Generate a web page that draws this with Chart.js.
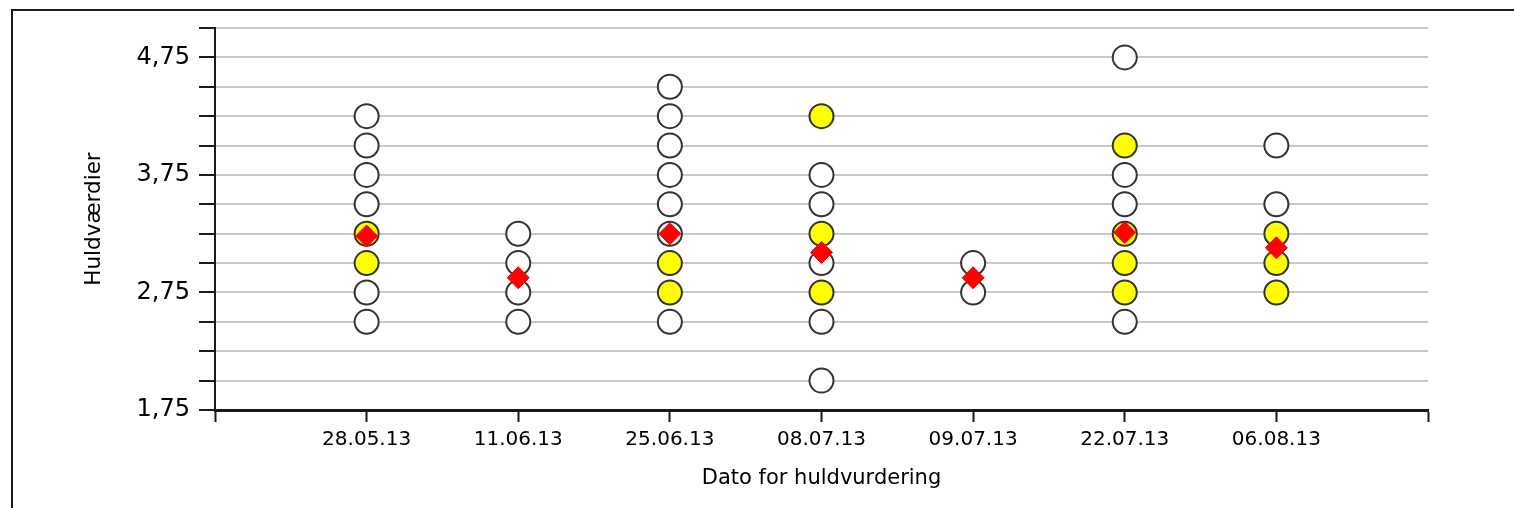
<!DOCTYPE html>
<html><head><meta charset="utf-8">
<script src="https://cdn.jsdelivr.net/npm/chart.js@4.4.1/dist/chart.umd.min.js"></script>
<style>
html,body{margin:0;padding:0;background:#fff;}
#wrap{position:relative;width:1514px;height:508px;overflow:hidden;background:#fff;}
#frame{position:absolute;left:11px;top:9px;width:1600px;height:600px;border-left:2px solid #1a1a1a;border-top:2px solid #1a1a1a;}
canvas{position:absolute;left:0;top:0;}
</style></head><body>
<div id="wrap"><div id="frame"></div><canvas id="c" width="1514" height="508"></canvas></div>
<script>
const categories = ['28.05.13','11.06.13','25.06.13','08.07.13','09.07.13','22.07.13','06.08.13'];
const whiteValues = [[4.25,4.0,3.75,3.5,2.75,2.5],[3.25,3.0,2.75,2.5],[4.5,4.25,4.0,3.75,3.5,3.25,2.5],[3.75,3.5,3.0,2.5,2.0],[3.0,2.75],[4.75,3.75,3.5,2.5],[4.0,3.5]];
const yellowValues = [[3.25,3.0],[],[3.0,2.75],[4.25,3.25,2.75],[],[4.0,3.25,3.0,2.75],[3.25,3.0,2.75]];
const meanValues = [3.23,2.875,3.25,3.09,2.875,3.26,3.13];
const yTickLabels = ['1,75','2,75','3,75','4,75'];

function toPoints(groups){
  const pts = [];
  groups.forEach((vals,i)=>vals.forEach(v=>pts.push({x:i+1,y:v})));
  return pts;
}
const FONT = 'DejaVu Sans';

new Chart(document.getElementById('c'), {
  type:'scatter',
  data:{datasets:[
    {label:'Gennemsnit', data:meanValues.map((v,i)=>({x:i+1,y:v})), order:0,
     pointStyle:'rectRot', pointRadius:11, backgroundColor:'#ff0000', borderColor:'#ff0000', borderWidth:1},
    {label:'Gul', data:toPoints(yellowValues), order:1,
     pointStyle:'circle', pointRadius:12, backgroundColor:'#ffff00', borderColor:'#333333', borderWidth:2},
    {label:'Hvid', data:toPoints(whiteValues), order:2,
     pointStyle:'circle', pointRadius:12, backgroundColor:'#ffffff', borderColor:'#333333', borderWidth:2}
  ]},
  options:{
    responsive:false, animation:false,
    layout:{padding:{top:28,right:86,bottom:0,left:0}},
    plugins:{legend:{display:false}, tooltip:{enabled:false}},
    scales:{
      x:{type:'linear', min:0, max:8,
        afterFit(s){ s.height = 98; },
        afterBuildTicks(s){ const t=[]; for(let v=0; v<=8; v++) t.push({value:v}); s.ticks=t; },
        ticks:{autoSkip:false, maxRotation:0, padding:6, color:'#000',
          font:{family:FONT, size:20},
          callback:(v)=> categories[v-1] || ''},
        grid:{drawOnChartArea:false, drawTicks:true, tickLength:12, tickColor:'#1a1a1a', tickWidth:2},
        border:{color:'#1a1a1a', width:3},
        title:{display:true, text:'Dato for huldvurdering', color:'#000',
          font:{family:FONT, size:21}, padding:{top:0,bottom:17}}
      },
      y:{type:'linear', min:1.75, max:5,
        afterFit(s){ s.width = 215; },
        afterBuildTicks(s){ const t=[]; for(let k=0; k<=13; k++) t.push({value:1.75+k*0.25}); s.ticks=t; },
        ticks:{autoSkip:false, padding:9, color:'#000',
          font:{family:FONT, size:24},
          callback:(v)=>{ const s=v.toFixed(2).replace('.',','); return yTickLabels.includes(s)?s:''; }},
        grid:{color:'#c8c8c8', lineWidth:2, tickColor:'#1a1a1a', tickLength:16, tickWidth:2, drawTicks:true},
        border:{color:'#1a1a1a', width:2},
        title:{display:true, text:'Huldværdier', color:'#000',
          font:{family:FONT, size:21.5}, padding:{top:82,bottom:0}}
      }
    }
  }
});
</script>
</body></html>
